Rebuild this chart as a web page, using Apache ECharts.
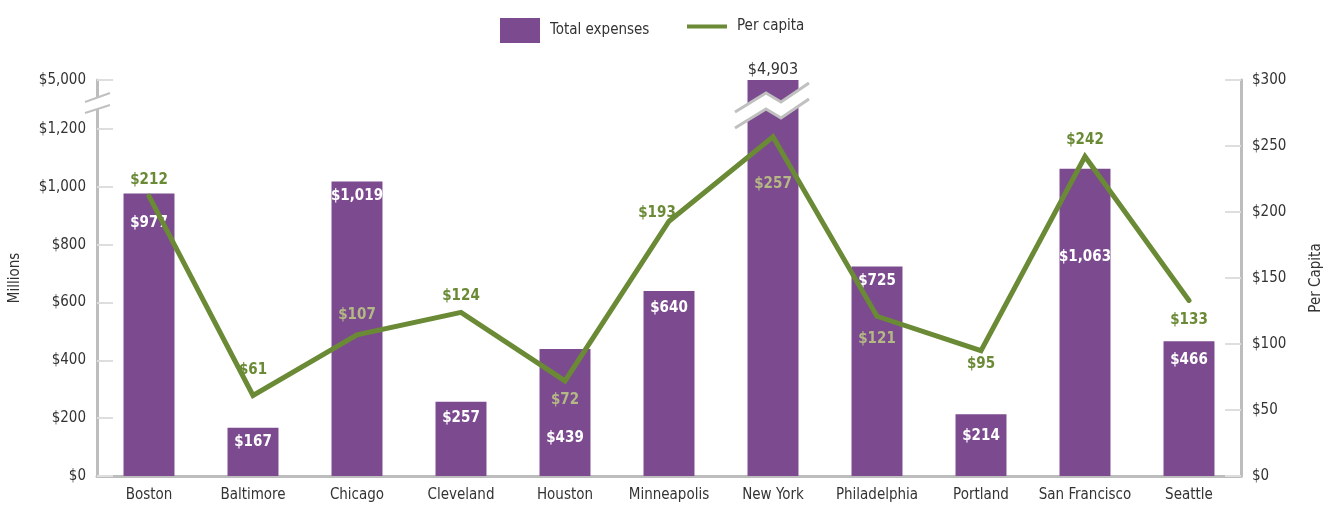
<!DOCTYPE html>
<html>
<head>
<meta charset="utf-8">
<script src="https://cdn.jsdelivr.net/npm/echarts@6/dist/echarts.min.js"></script>
<style>
html,body{margin:0;padding:0;background:#fff;}
#chart{width:1332px;height:506px;}
</style>
</head>
<body>
<div id="chart"></div>
<script>
// ---- data ----
const categories = ['Boston','Baltimore','Chicago','Cleveland','Houston','Minneapolis','New York','Philadelphia','Portland','San Francisco','Seattle'];
const totalExpenses = [977,167,1019,257,439,640,4903,725,214,1063,466]; // millions
const perCapita = [212,61,107,124,72,193,257,121,95,242,133];
const leftTicks = [0,200,400,600,800,1000,1200];
const rightTicks = [0,50,100,150,200,250,300];
const breakTopLabel = '$5,000';

// ---- styling ----
const FONT = '"Liberation Sans Narrow","DejaVu Sans Condensed","Roboto Condensed",sans-serif';
const PURPLE = '#7b4a8f';
const GREEN = '#6a8a35';
const KHAKI = '#b4b885';
const AXIS = '#bdbdbd';
const TICK = '#dedede';
const AXIS_TOP = 1370; // left axis visual top (break)

const barLabelDist = {Boston:22, Houston:82, 'San Francisco':81, Portland:14, Cleveland:9, Minneapolis:10, Seattle:11};
const lineLabelStyle = {
  Baltimore:{distance:17},
  Chicago:{distance:12,color:KHAKI},
  Minneapolis:{offset:[-12,8]},
  'New York':{position:'bottom',distance:39,color:KHAKI},
  Philadelphia:{position:'bottom',distance:15,color:KHAKI},
  Houston:{position:'bottom',distance:11,color:KHAKI},
  Portland:{position:'bottom',distance:6},
  Seattle:{position:'bottom',distance:12}
};

const fmt = v => '$' + v.toLocaleString('en-US');

const barData = totalExpenses.map((v,i)=>{
  const c = categories[i];
  if (v > AXIS_TOP) {
    return {value:v, label:{position:'top',distance:2,color:'#333',fontWeight:'normal',fontSize:16}};
  }
  return {value:v, label:{distance: barLabelDist[c] != null ? barLabelDist[c] : 7}};
});
const lineData = perCapita.map((v,i)=>{
  const s = lineLabelStyle[categories[i]];
  return s ? {value:v, label:Object.assign({}, s)} : {value:v};
});

const chart = echarts.init(document.getElementById('chart'));
chart.setOption({
  animation:false,
  textStyle:{fontFamily:FONT},
  legend:[{
    top:13, left:495, itemWidth:40, itemHeight:25, itemGap:10,
    textStyle:{fontFamily:FONT,fontSize:15,color:'#333',padding:[0,0,0,5]},
    data:[{name:'Total expenses',icon:'rect'}]
  },{
    top:14, left:682, itemWidth:40, itemHeight:4, itemGap:10,
    textStyle:{fontFamily:FONT,fontSize:15,color:'#333',padding:[0,0,0,5]},
    data:[{name:'Per capita',icon:'rect'}]
  }],
  grid:{left:97,right:91,top:80,bottom:30,containLabel:false,outerBoundsMode:'none'},
  xAxis:{
    type:'category', data:categories,
    axisLine:{lineStyle:{color:AXIS,width:3}},
    axisTick:{show:false},
    axisLabel:{fontFamily:FONT,fontSize:15,color:'#333',margin:12,interval:0}
  },
  yAxis:[{
    type:'value', min:0, max:AXIS_TOP,
    name:'Millions', nameLocation:'middle', nameGap:74, nameRotate:90,
    nameTextStyle:{fontFamily:FONT,fontSize:15,color:'#333'},
    axisLine:{show:true,lineStyle:{color:AXIS,width:3}},
    axisTick:{show:true,inside:true,length:16,lineStyle:{color:TICK,width:2},customValues:leftTicks.concat([AXIS_TOP])},
    axisLabel:{fontFamily:FONT,fontSize:15,color:'#333',margin:11,
      customValues:leftTicks.concat([AXIS_TOP]),
      formatter:v => v >= AXIS_TOP ? breakTopLabel : fmt(v)},
    splitLine:{show:false}
  },{
    type:'value', min:0, max:300, interval:50, position:'right',
    name:'Per Capita', nameLocation:'middle', nameGap:68, nameRotate:90,
    nameTextStyle:{fontFamily:FONT,fontSize:15,color:'#333'},
    axisLine:{show:true,lineStyle:{color:AXIS,width:3}},
    axisTick:{show:true,inside:true,length:16,lineStyle:{color:TICK,width:2},customValues:rightTicks},
    axisLabel:{fontFamily:FONT,fontSize:15,color:'#333',margin:11,customValues:rightTicks,formatter:fmt},
    splitLine:{show:false}
  }],
  series:[{
    name:'Total expenses', type:'bar', yAxisIndex:0, data:barData,
    barWidth:'49%', clip:true,
    itemStyle:{color:PURPLE},
    label:{show:true,position:'insideTop',color:'#fff',fontWeight:'bold',fontSize:15,fontFamily:FONT,formatter:p=>fmt(p.value)},
    z:2
  },{
    name:'Per capita', type:'line', yAxisIndex:1, data:lineData,
    symbol:'circle', symbolSize:1, showSymbol:true,
    lineStyle:{color:GREEN,width:5,cap:'round',join:'miter'},
    itemStyle:{color:GREEN},
    label:{show:true,position:'top',distance:8,color:GREEN,fontWeight:'bold',fontSize:15,fontFamily:FONT,formatter:p=>fmt(p.value)},
    z:3
  }]
});

// ---- axis-break decorations, positioned from the chart's own scales ----
function drawBreaks(){
  const nyIdx = totalExpenses.findIndex(v => v > AXIS_TOP);
  const cx = chart.convertToPixel({xAxisIndex:0}, categories[nyIdx]);
  const top = chart.convertToPixel({yAxisIndex:0}, AXIS_TOP);
  const step = cx - chart.convertToPixel({xAxisIndex:0}, categories[nyIdx-1]);
  const lx = chart.convertToPixel({xAxisIndex:0}, categories[0]) - step/2;
  const dx = [-38,-7,8,36];
  const dy = [32,13,22,3];
  const up = dx.map((d,i)=>[cx+d, top+dy[i]]);
  const lo = dx.map((d,i)=>[cx+d, top+dy[i]+16]);
  const lUp = [[lx-12, top+22],[lx+13, top+13]];
  const lLo = [[lx-12, top+33],[lx+13, top+25]];
  chart.setOption({graphic:[
    {type:'polygon',z:100,shape:{points:up.concat(lo.slice().reverse())},style:{fill:'#fff'}},
    {type:'polyline',z:101,shape:{points:up},style:{stroke:'#c0c0c0',lineWidth:3,fill:null}},
    {type:'polyline',z:101,shape:{points:lo},style:{stroke:'#c0c0c0',lineWidth:3,fill:null}},
    {type:'polygon',z:100,shape:{points:lUp.concat(lLo.slice().reverse())},style:{fill:'#fff'}},
    {type:'polyline',z:101,shape:{points:lUp},style:{stroke:'#c0c0c0',lineWidth:2,fill:null}},
    {type:'polyline',z:101,shape:{points:lLo},style:{stroke:'#c0c0c0',lineWidth:2,fill:null}}
  ]});
}
drawBreaks();
</script>
</body>
</html>
